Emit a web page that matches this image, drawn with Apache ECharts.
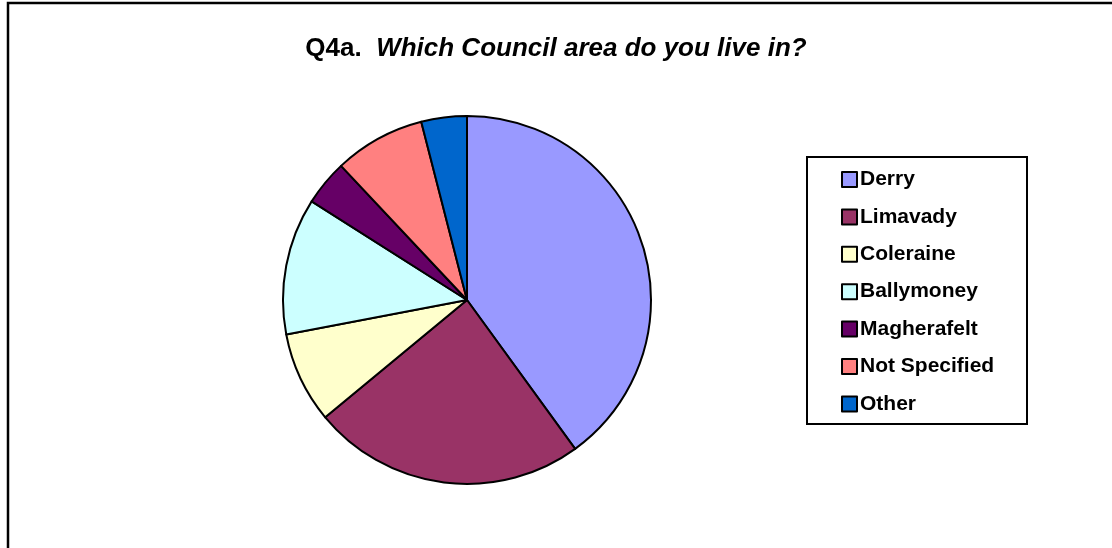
<!DOCTYPE html>
<html>
<head>
<meta charset="utf-8">
<script src="https://cdn.jsdelivr.net/npm/echarts@6/dist/echarts.min.js"></script>
<style>
html,body{margin:0;padding:0;background:#fff;}
#chart{width:1112px;height:548px;}
</style>
</head>
<body>
<div id="chart"></div>
<script>
const categories = ['Derry', 'Limavady', 'Coleraine', 'Ballymoney', 'Magherafelt', 'Not Specified', 'Other'];
const values = [40, 24, 8, 12, 4, 8, 4];
const colors = ['#9999FF', '#993366', '#FFFFCC', '#CCFFFF', '#660066', '#FF8080', '#0066CC'];

const FONT = '"Liberation Sans", Arial, Helvetica, sans-serif';
const chart = echarts.init(document.getElementById('chart'), null, {renderer: 'canvas'});

chart.setOption({
  backgroundColor: '#ffffff',
  animation: false,
  color: colors,
  title: {
    text: '{a|Q4a.  }{b|Which Council area do you live in?}',
    left: 'center',
    top: 31,
    textStyle: {
      rich: {
        a: {fontFamily: FONT, fontSize: 26, fontWeight: 'bold', color: '#000'},
        b: {fontFamily: FONT, fontSize: 26, fontWeight: 'bold', fontStyle: 'italic', color: '#000'}
      }
    }
  },
  graphic: [
    {
      type: 'rect',
      shape: {x: 8, y: 3, width: 1300, height: 700},
      style: {fill: 'none', stroke: '#000', lineWidth: 2.5},
      silent: true, z: 0
    },
    {
      type: 'rect',
      shape: {x: 807, y: 157, width: 220, height: 267},
      style: {fill: '#fff', stroke: '#000', lineWidth: 2},
      silent: true, z: 0
    }
  ],
  legend: {
    orient: 'vertical',
    left: 841,
    top: 169,
    itemWidth: 15,
    itemHeight: 15,
    itemGap: 16.4,
    icon: 'rect',
    selectedMode: false,
    padding: 0,
    data: categories,
    itemStyle: {borderColor: '#000', borderWidth: 2},
    textStyle: {
      fontFamily: FONT, fontSize: 21, fontWeight: 'bold', color: '#000',
      padding: [0, 0, 0, -2], lineHeight: 15
    },
    z: 5
  },
  series: [{
    type: 'pie',
    center: [467, 300],
    radius: [0, 184],
    startAngle: 90,
    clockwise: true,
    label: {show: false},
    labelLine: {show: false},
    emphasis: {disabled: true},
    itemStyle: {borderColor: '#000', borderWidth: 2},
    data: categories.map((c, i) => ({name: c, value: values[i]}))
  }]
});
</script>
</body>
</html>
